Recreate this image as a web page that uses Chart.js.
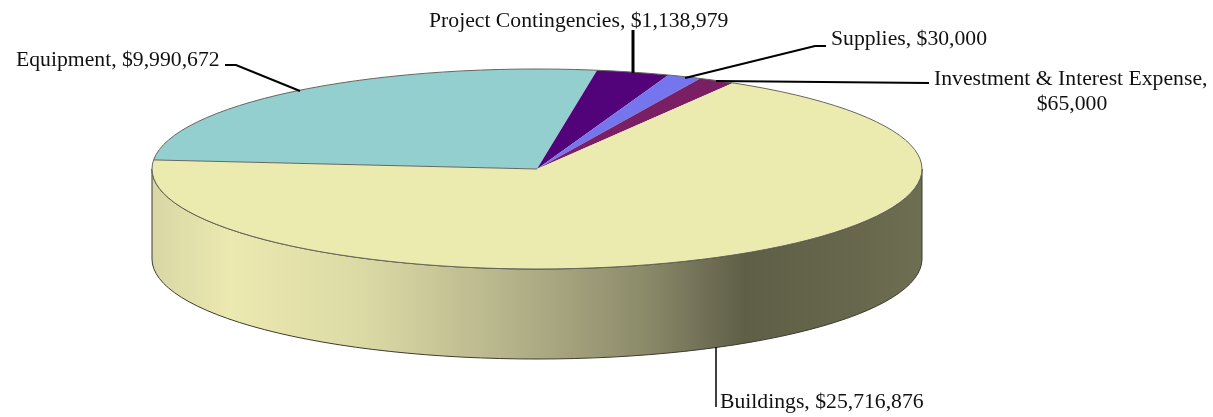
<!DOCTYPE html>
<html>
<head>
<meta charset="utf-8">
<title>Project budget</title>
<script src="https://cdn.jsdelivr.net/npm/chart.js@4"></script>
<style>
  html, body { margin: 0; padding: 0; background: #fff; }
  canvas { display: block; }
</style>
</head>
<body>
<canvas id="budgetChart" width="1213" height="417"></canvas>
<script>
const categories = ['Equipment', 'Project Contingencies', 'Supplies', 'Investment & Interest Expense', 'Buildings'];
const amounts = ['$9,990,672', '$1,138,979', '$30,000', '$65,000', '$25,716,876'];
// Slice sizes in % (small slices are drawn bigger than their amounts)
const sliceShares = [26.05, 3.05, 1.42, 1.53, 67.95];
const sliceColors = ['#93cfcf', '#52037a', '#7575ee', '#7a1f63', '#ebebb0'];

const startAngle = 275.2; // degrees, clockwise from top
const squash = 100 / 385; // ellipse height / width
const depth = 90;

// Labels and leader lines are placed by hand, same as in the picture
const calloutText = [
  { text: `${categories[0]}, ${amounts[0]}`, x: 16, y: 66, align: 'left' },
  { text: `${categories[1]}, ${amounts[1]}`, x: 429, y: 27, align: 'left' },
  { text: `${categories[2]}, ${amounts[2]}`, x: 831, y: 45, align: 'left' },
  { text: `${categories[3]},`, x: 934, y: 85, align: 'left' },
  { text: amounts[3], x: 1072, y: 110, align: 'center' },
  { text: `${categories[4]}, ${amounts[4]}`, x: 720, y: 408, align: 'left' }
];
const leaders = [
  { width: 2, pts: [[225, 65], [236, 65], [300, 91]] },
  { width: 3, pts: [[633, 30], [633, 73]] },
  { width: 2, pts: [[685, 78], [815, 46], [826, 46]] },
  { width: 2, pts: [[716, 81], [929, 83]] },
  { width: 1.5, pts: [[716, 347], [716, 407]] }
];

function wallGradient(ctx, left, width) {
  const grad = ctx.createLinearGradient(left, 0, left + width, 0);
  const stops = [
    [0, '#d8d6a4'], [0.1, '#ebe9b0'], [0.256, '#dedca6'], [0.34, '#cfcd9c'],
    [0.45, '#b8b68c'], [0.545, '#a3a17c'], [0.64, '#8b8a69'], [0.705, '#75745a'],
    [0.77, '#5f5f47'], [0.9, '#66664c'], [1, '#6e6e52']
  ];
  stops.forEach(s => grad.addColorStop(s[0], s[1]));
  return grad;
}

// Turns the flat pie into a squashed disc with a side wall
const discPlugin = {
  id: 'disc',
  beforeDatasetsDraw(chart) {
    const ctx = chart.ctx;
    const arc = chart.getDatasetMeta(0).data[0];
    const rx = arc.outerRadius;
    const ry = rx * squash;

    ctx.save();
    ctx.beginPath();
    ctx.moveTo(arc.x - rx, arc.y);
    ctx.lineTo(arc.x - rx, arc.y + depth);
    ctx.ellipse(arc.x, arc.y + depth, rx, ry, 0, Math.PI, 0, true);
    ctx.lineTo(arc.x + rx, arc.y);
    ctx.ellipse(arc.x, arc.y, rx, ry, 0, 0, Math.PI, false);
    ctx.closePath();
    ctx.fillStyle = wallGradient(ctx, arc.x - rx, rx * 2);
    ctx.fill();
    ctx.strokeStyle = '#3c3c30';
    ctx.lineWidth = 1;
    ctx.stroke();
    ctx.restore();

    ctx.save();
    ctx.translate(arc.x, arc.y);
    ctx.scale(1, squash);
    ctx.translate(-arc.x, -arc.y);
  },
  afterDatasetsDraw(chart) {
    const ctx = chart.ctx;
    ctx.restore();

    // rim and the one visible slice edge, drawn here so they keep an even width
    const arc = chart.getDatasetMeta(0).data[0];
    const rx = arc.outerRadius;
    ctx.save();
    ctx.strokeStyle = '#66665e';
    ctx.lineWidth = 1;
    ctx.beginPath();
    ctx.ellipse(arc.x, arc.y, rx, rx * squash, 0, 0, Math.PI * 2);
    ctx.stroke();
    ctx.beginPath();
    ctx.moveTo(arc.x, arc.y);
    ctx.lineTo(arc.x + rx * Math.cos(arc.startAngle), arc.y + rx * squash * Math.sin(arc.startAngle));
    ctx.stroke();
    ctx.restore();
  },
  afterDraw(chart) {
    const ctx = chart.ctx;
    ctx.save();
    ctx.strokeStyle = '#000';
    leaders.forEach(l => {
      ctx.lineWidth = l.width;
      ctx.beginPath();
      l.pts.forEach((p, i) => (i ? ctx.lineTo(p[0], p[1]) : ctx.moveTo(p[0], p[1])));
      ctx.stroke();
    });
    ctx.fillStyle = '#111';
    ctx.font = '21.7px "Liberation Serif"';
    ctx.textBaseline = 'alphabetic';
    calloutText.forEach(c => {
      ctx.textAlign = c.align;
      ctx.fillText(c.text, c.x, c.y);
    });
    ctx.restore();
  }
};

new Chart(document.getElementById('budgetChart'), {
  type: 'pie',
  data: {
    labels: categories,
    datasets: [{
      data: sliceShares,
      backgroundColor: sliceColors,
      borderWidth: 0,
      radius: 385,
      clip: false
    }]
  },
  options: {
    responsive: false,
    animation: false,
    events: [],
    rotation: startAngle,
    // puts the pie centre at (537, 169)
    layout: { padding: { right: 139, bottom: 79 } },
    plugins: {
      legend: { display: false },
      tooltip: { enabled: false }
    }
  },
  plugins: [discPlugin]
});
</script>
</body>
</html>
